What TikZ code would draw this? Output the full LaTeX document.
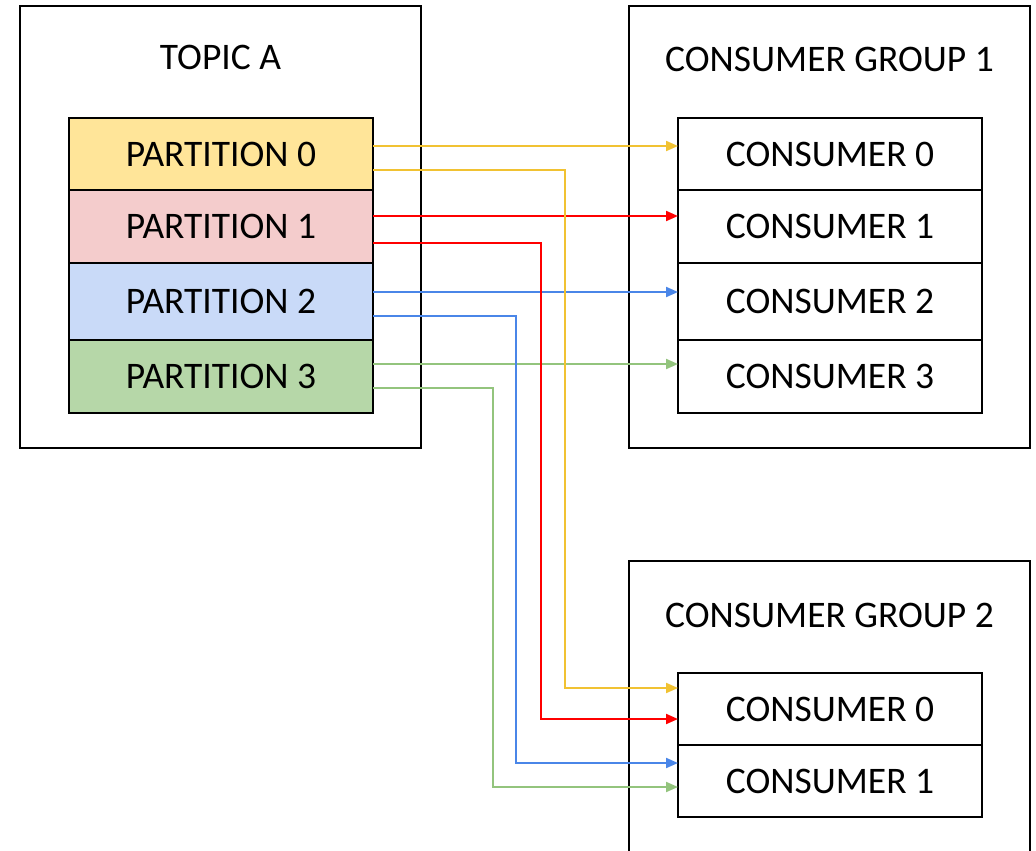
\documentclass[tikz,border=0pt]{standalone}
\usepackage{fontspec}
\setmainfont{Carlito}
\usetikzlibrary{arrows.meta}
\definecolor{pyel}{HTML}{FFE599}
\definecolor{pred}{HTML}{F4CCCC}
\definecolor{pblu}{HTML}{C9DAF8}
\definecolor{pgrn}{HTML}{B6D7A8}
\definecolor{ayel}{HTML}{F1C232}
\definecolor{ared}{HTML}{FF0000}
\definecolor{ablu}{HTML}{4A86E8}
\definecolor{agrn}{HTML}{93C47D}
\begin{document}
\begin{tikzpicture}[x=1pt,y=-1pt,
  box/.style={draw=black, line width=2pt, inner sep=0pt, outer sep=0pt},
  cell/.style={draw=black, line width=1.5pt, minimum width=304pt, inner sep=0pt, outer sep=0pt, font=\fontsize{37.5}{42}\selectfont},
  lbl/.style={font=\fontsize{37.5}{42}\selectfont, anchor=base, inner sep=0pt},
  link/.style={line width=2pt, -{Triangle[length=12pt,width=10pt]}}]
\clip (0,0) rectangle (1036,851);
\fill[white] (0,0) rectangle (1036,851);
% containers
\node[box, minimum width=401pt, minimum height=442pt] (topic) at (220.5,227) {};
\node[box, minimum width=401pt, minimum height=442pt] (g1) at (829.5,227) {};
\node[box, minimum width=401pt, minimum height=400pt] (g2) at (829.5,761) {};
\node[lbl] (tl) at (220.5,70) {TOPIC A};
\node[lbl] (g1l) at (829.5,71) {CONSUMER GROUP 1};
\node[lbl] (g2l) at (829.5,627) {CONSUMER GROUP 2};
% partitions
\node[cell, fill=pyel, minimum height=72pt] (p0) at (221,154) {PARTITION 0};
\node[cell, fill=pred, minimum height=73pt] (p1) at (221,226.5) {PARTITION 1};
\node[cell, fill=pblu, minimum height=77pt] (p2) at (221,301.5) {PARTITION 2};
\node[cell, fill=pgrn, minimum height=73pt] (p3) at (221,376.5) {PARTITION 3};
% group 1 consumers
\node[cell, minimum height=72pt] (c0) at (830,154) {CONSUMER 0};
\node[cell, minimum height=73pt] (c1) at (830,226.5) {CONSUMER 1};
\node[cell, minimum height=77pt] (c2) at (830,301.5) {CONSUMER 2};
\node[cell, minimum height=73pt] (c3) at (830,376.5) {CONSUMER 3};
% group 2 consumers
\node[cell, minimum height=72pt] (d0) at (830,709) {CONSUMER 0};
\node[cell, minimum height=72pt] (d1) at (830,781) {CONSUMER 1};
% direct links
\draw[link, ayel] (p0.east |- 0,146) -- (c0.west |- 0,146);
\draw[link, ared] (p1.east |- 0,216) -- (c1.west |- 0,216);
\draw[link, ablu] (p2.east |- 0,292) -- (c2.west |- 0,292);
\draw[link, agrn] (p3.east |- 0,364) -- (c3.west |- 0,364);
% bent links
\draw[link, ayel] (p0.east |- 0,170) -| (565,688) -- (d0.west |- 0,688);
\draw[link, ared] (p1.east |- 0,243) -| (541,719) -- (d0.west |- 0,719);
\draw[link, ablu] (p2.east |- 0,316) -| (516,763) -- (d1.west |- 0,763);
\draw[link, agrn] (p3.east |- 0,388) -| (493,787) -- (d1.west |- 0,787);
\end{tikzpicture}
\end{document}
